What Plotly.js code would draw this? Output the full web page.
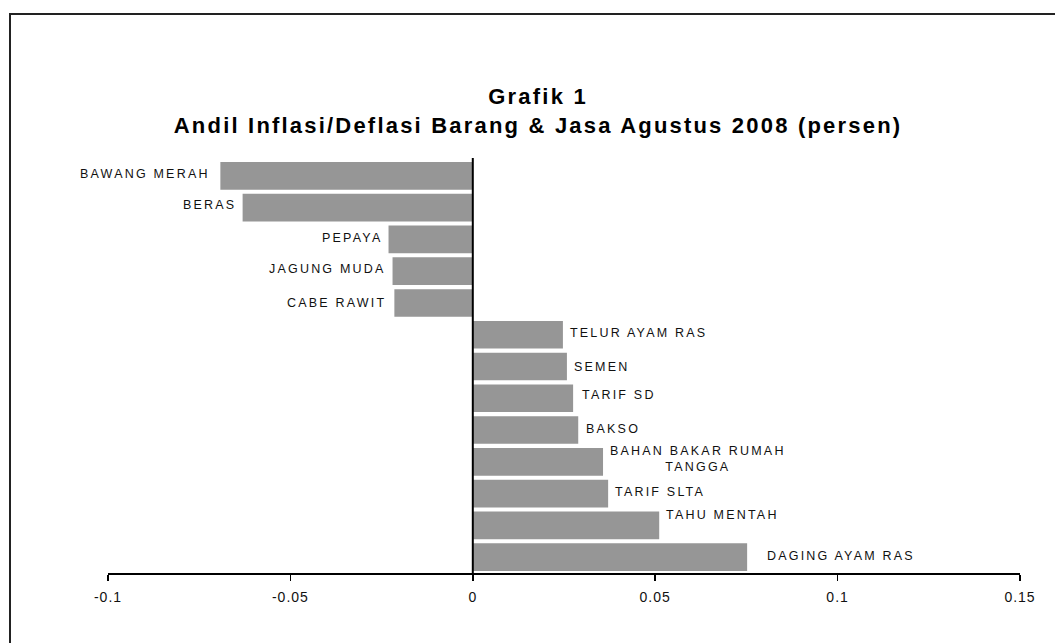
<!DOCTYPE html>
<html>
<head>
<meta charset="utf-8">
<script src="https://cdn.plot.ly/plotly-3.0.1.min.js"></script>
<style>
  html, body { margin: 0; padding: 0; background: #fff; }
  #wrap { position: relative; width: 1055px; height: 643px; overflow: hidden; }
  #chart { width: 1055px; height: 643px; }
  #frame { position: absolute; left: 9px; top: 13px; width: 1100px; height: 700px;
           border-left: 2px solid #222; border-top: 2px solid #222; pointer-events: none; }
  .annotation-text { letter-spacing: 2.2px; }
  .gtitle { letter-spacing: 2.2px; }
  .xtick text { letter-spacing: 1px; }
</style>
</head>
<body>
<div id="wrap">
  <div id="chart"></div>
  <div id="frame"></div>
</div>
<script>
// ---- data ----
const categories = ['BAWANG MERAH', 'BERAS', 'PEPAYA', 'JAGUNG MUDA', 'CABE RAWIT',
  'TELUR AYAM RAS', 'SEMEN', 'TARIF SD', 'BAKSO', 'BAHAN BAKAR RUMAH TANGGA',
  'TARIF SLTA', 'TAHU MENTAH', 'DAGING AYAM RAS'];
const andil = [-0.0692, -0.0631, -0.0231, -0.0220, -0.0215,
  0.0247, 0.0258, 0.0275, 0.0289, 0.0357, 0.0371, 0.0511, 0.0752];
const labelText = ['BAWANG MERAH', 'BERAS', 'PEPAYA', 'JAGUNG MUDA', 'CABE RAWIT',
  'TELUR AYAM RAS', 'SEMEN', 'TARIF SD', 'BAKSO', 'BAHAN BAKAR RUMAH<br>TANGGA',
  'TARIF SLTA', 'TAHU MENTAH', 'DAGING AYAM RAS'];
const tickValues = [-0.1, -0.05, 0, 0.05, 0.1, 0.15];
const tickLabels = ['-0.1', '-0.05', '0', '0.05', '0.1', '0.15'];
const titleLines = ['Grafik 1', 'Andil Inflasi/Deflasi Barang & Jasa Agustus 2008 (persen)'];

// ---- label placement tweaks (layout only) ----
const labelDx = [-8, -5, -5, -5, -6, 5, 5, 7, 6, 5, 5, 5, 18];
const labelDy = [2, 3, 1, 2, 0, 2, 0, 3, 1, 3, 2, 10, 1];

const FONT = 'Liberation Sans, Arial, Helvetica, sans-serif';

const trace = {
  type: 'bar',
  orientation: 'h',
  y: categories,
  x: andil,
  marker: { color: '#969696', line: { width: 0 } },
  hoverinfo: 'x+y'
};

const annotations = categories.map((c, i) => ({
  x: andil[i],
  y: c,
  xref: 'x',
  yref: 'y',
  text: labelText[i],
  showarrow: false,
  xanchor: andil[i] < 0 ? 'right' : 'left',
  yanchor: 'middle',
  align: 'center',
  xshift: labelDx[i],
  yshift: labelDy[i],
  font: { family: FONT, size: 12.5, color: '#111' }
}));

const layout = {
  width: 1055,
  height: 643,
  margin: { l: 108, r: 35, t: 160, b: 70, pad: 0 },
  paper_bgcolor: '#ffffff',
  plot_bgcolor: '#ffffff',
  showlegend: false,
  bargap: 0.13,
  title: {
    text: titleLines.join('<br>'),
    font: { family: FONT, size: 22, color: '#000', weight: 'bold' },
    xref: 'container',
    x: 0.51,
    xanchor: 'center',
    yref: 'container',
    y: 1 - 104 / 643,
    yanchor: 'top'
  },
  xaxis: {
    range: [-0.1, 0.15],
    tickmode: 'array',
    tickvals: tickValues,
    ticktext: tickLabels,
    showgrid: false,
    zeroline: false,
    showline: true,
    linecolor: '#000',
    linewidth: 1.5,
    ticks: 'outside',
    ticklen: 6,
    tickwidth: 1.5,
    tickcolor: '#000',
    ticklabelstandoff: 5,
    tickfont: { family: FONT, size: 14, color: '#111' },
    fixedrange: true
  },
  yaxis: {
    type: 'category',
    autorange: 'reversed',
    showticklabels: false,
    ticks: '',
    showgrid: false,
    zeroline: false,
    showline: false,
    fixedrange: true
  },
  shapes: [{
    type: 'line', xref: 'x', yref: 'paper',
    x0: 0, x1: 0, y0: 0, y1: 1.005,
    line: { color: '#000', width: 2 },
    layer: 'above'
  }],
  annotations: annotations
};

Plotly.newPlot('chart', [trace], layout, { displayModeBar: false, staticPlot: true });
</script>
</body>
</html>
